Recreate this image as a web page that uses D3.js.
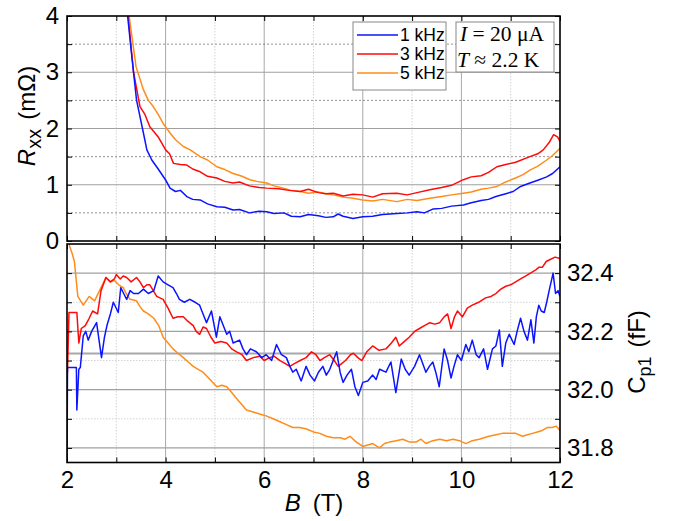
<!DOCTYPE html>
<html><head><meta charset="utf-8">
<script src="https://cdn.jsdelivr.net/npm/d3@7"></script>
<style>
body{margin:0;background:#fff}
text{font-family:"Liberation Sans",Arial,sans-serif;fill:#000}
</style></head>
<body><svg id="c" width="676" height="521"></svg>
<script>
// ---------- data ----------
const seriesNames = ["1 kHz", "3 kHz", "5 kHz"];
const seriesColors = ["#0a14ff", "#ff0a0a", "#ff8c1a"];
const bTicksMajor = [2, 4, 6, 8, 10, 12];
const rxxTicks = [0, 1, 2, 3, 4];
const cpTicks = [31.8, 32.0, 32.2, 32.4];
const annotationLines = [["I", " = 20 μA"], ["T", " ≈ 2.2 K"]];

// Rxx (mΩ) vs B (T)
const rxx1k = [[3.23,4.0],[3.30,3.4],[3.41,2.51],[3.55,1.92],[3.62,1.62],[3.72,1.44],[3.85,1.28],[4.0,1.085],[4.09,0.94],[4.2,0.88],[4.3,0.9],[4.43,0.79],[4.55,0.74],[4.7,0.73],[4.85,0.66],[5.04,0.61],[5.2,0.6],[5.37,0.55],[5.5,0.56],[5.7,0.5],[5.9,0.53],[6.05,0.52],[6.2,0.49],[6.4,0.5],[6.55,0.44],[6.73,0.43],[6.9,0.47],[7.1,0.45],[7.25,0.42],[7.4,0.43],[7.5,0.48],[7.6,0.44],[7.8,0.4],[8.0,0.43],[8.2,0.44],[8.4,0.47],[8.69,0.49],[8.9,0.5],[9.1,0.52],[9.25,0.5],[9.43,0.57],[9.6,0.58],[9.8,0.62],[10.04,0.64],[10.2,0.68],[10.4,0.72],[10.55,0.74],[10.7,0.79],[10.9,0.84],[11.05,0.88],[11.2,0.97],[11.39,1.03],[11.55,1.08],[11.73,1.14],[11.85,1.2],[12.0,1.32]];
const rxx3k = [[3.24,4.0],[3.35,3.0],[3.48,2.39],[3.58,2.25],[3.68,2.03],[3.85,1.85],[4.0,1.62],[4.08,1.55],[4.16,1.38],[4.3,1.36],[4.43,1.35],[4.55,1.28],[4.7,1.23],[4.85,1.15],[5.04,1.12],[5.2,1.06],[5.37,1.03],[5.5,1.05],[5.7,0.98],[5.9,0.95],[6.05,0.94],[6.3,0.93],[6.5,0.9],[6.73,0.88],[6.9,0.92],[7.1,0.86],[7.25,0.84],[7.4,0.85],[7.6,0.8],[7.8,0.83],[8.0,0.82],[8.2,0.78],[8.4,0.84],[8.69,0.85],[8.9,0.82],[9.1,0.86],[9.36,0.91],[9.6,0.95],[9.8,0.99],[10.04,1.09],[10.2,1.14],[10.4,1.16],[10.55,1.22],[10.72,1.32],[10.9,1.36],[11.1,1.4],[11.39,1.5],[11.55,1.55],[11.66,1.62],[11.78,1.75],[11.87,1.89],[11.95,1.85],[12.0,1.77]];
const rxx5k = [[3.26,4.0],[3.4,3.1],[3.55,2.69],[3.65,2.5],[3.75,2.39],[3.85,2.25],[3.95,2.09],[4.09,1.92],[4.2,1.8],[4.36,1.68],[4.5,1.62],[4.7,1.5],[4.85,1.44],[5.04,1.32],[5.2,1.27],[5.37,1.2],[5.55,1.15],[5.71,1.09],[5.85,1.06],[6.05,1.03],[6.2,0.98],[6.39,0.94],[6.55,0.9],[6.73,0.88],[6.9,0.85],[7.1,0.87],[7.25,0.84],[7.4,0.82],[7.6,0.78],[7.8,0.76],[8.0,0.73],[8.2,0.71],[8.4,0.74],[8.69,0.7],[8.9,0.74],[9.1,0.72],[9.36,0.76],[9.6,0.79],[9.8,0.82],[10.04,0.85],[10.2,0.87],[10.4,0.92],[10.55,0.94],[10.72,0.97],[10.9,1.05],[11.1,1.12],[11.25,1.18],[11.39,1.26],[11.55,1.33],[11.73,1.44],[11.85,1.52],[12.0,1.65]];

// Cp1 (fF) vs B (T)
const cp1k = [[2.0,31.7],[2.01,32.076],[2.19,32.076],[2.2,31.93],[2.24,32.07],[2.27,32.076],[2.33,32.185],[2.38,32.2],[2.43,32.17],[2.5,32.2],[2.6,32.23],[2.7,32.11],[2.76,32.18],[2.81,32.22],[2.88,32.26],[2.94,32.3],[3.04,32.265],[3.09,32.35],[3.15,32.33],[3.21,32.31],[3.28,32.34],[3.35,32.33],[3.45,32.33],[3.55,32.345],[3.65,32.33],[3.76,32.34],[3.85,32.39],[3.95,32.37],[4.05,32.36],[4.15,32.35],[4.22,32.33],[4.28,32.31],[4.38,32.3],[4.49,32.31],[4.6,32.3],[4.69,32.29],[4.76,32.26],[4.83,32.23],[4.93,32.27],[5.03,32.18],[5.1,32.25],[5.17,32.22],[5.24,32.19],[5.3,32.2],[5.37,32.16],[5.5,32.17],[5.57,32.14],[5.64,32.12],[5.72,32.14],[5.84,32.13],[5.95,32.11],[6.04,32.12],[6.15,32.1],[6.25,32.155],[6.35,32.12],[6.45,32.11],[6.52,32.08],[6.58,32.06],[6.65,32.07],[6.75,32.03],[6.85,32.08],[6.93,32.05],[7.02,32.03],[7.1,32.06],[7.19,32.08],[7.26,32.05],[7.33,32.07],[7.4,32.1],[7.47,32.13],[7.54,32.06],[7.6,32.025],[7.68,32.05],[7.77,32.07],[7.84,32.01],[7.91,31.98],[8.0,32.025],[8.1,32.03],[8.2,32.05],[8.27,32.035],[8.34,32.07],[8.47,32.06],[8.57,32.095],[8.67,31.99],[8.78,32.105],[8.86,32.07],[8.94,32.05],[9.05,32.08],[9.15,32.12],[9.28,32.06],[9.35,32.08],[9.42,32.095],[9.48,32.06],[9.55,32.01],[9.65,32.14],[9.72,32.1],[9.79,32.04],[9.85,32.08],[9.92,32.12],[10.0,32.1],[10.09,32.155],[10.15,32.13],[10.22,32.17],[10.3,32.12],[10.36,32.11],[10.45,32.14],[10.53,32.07],[10.63,32.14],[10.7,32.15],[10.77,32.205],[10.83,32.08],[10.9,32.16],[10.97,32.19],[11.07,32.155],[11.13,32.2],[11.2,32.245],[11.27,32.2],[11.34,32.17],[11.41,32.24],[11.47,32.16],[11.52,32.25],[11.57,32.29],[11.62,32.27],[11.68,32.265],[11.73,32.3],[11.78,32.34],[11.86,32.4],[11.91,32.33],[11.96,32.34],[12.0,32.32]];
const cp3k = [[2.01,32.06],[2.04,32.265],[2.2,32.265],[2.24,32.16],[2.29,32.21],[2.37,32.22],[2.45,32.245],[2.52,32.27],[2.62,32.26],[2.69,32.34],[2.79,32.385],[2.88,32.37],[2.96,32.38],[3.0,32.395],[3.08,32.38],[3.14,32.39],[3.21,32.385],[3.3,32.37],[3.41,32.385],[3.48,32.37],[3.55,32.35],[3.62,32.36],[3.68,32.36],[3.75,32.34],[3.82,32.32],[3.95,32.31],[4.05,32.28],[4.15,32.245],[4.25,32.25],[4.36,32.25],[4.45,32.235],[4.56,32.22],[4.62,32.2],[4.69,32.19],[4.76,32.215],[4.83,32.21],[4.92,32.18],[5.0,32.16],[5.12,32.165],[5.24,32.16],[5.34,32.14],[5.44,32.13],[5.55,32.12],[5.64,32.1],[5.78,32.11],[5.91,32.115],[6.0,32.1],[6.11,32.11],[6.2,32.115],[6.32,32.1],[6.42,32.09],[6.52,32.08],[6.62,32.09],[6.73,32.1],[6.85,32.11],[6.96,32.13],[7.05,32.12],[7.13,32.1],[7.22,32.11],[7.33,32.12],[7.42,32.1],[7.5,32.08],[7.54,32.085],[7.65,32.1],[7.75,32.12],[7.81,32.125],[7.9,32.11],[7.98,32.1],[8.08,32.13],[8.2,32.15],[8.33,32.135],[8.47,32.14],[8.58,32.16],[8.67,32.18],[8.74,32.15],[8.84,32.165],[8.94,32.18],[9.05,32.2],[9.15,32.21],[9.25,32.22],[9.36,32.23],[9.46,32.225],[9.56,32.23],[9.65,32.25],[9.72,32.26],[9.79,32.21],[9.86,32.25],[9.92,32.27],[10.02,32.25],[10.12,32.28],[10.22,32.29],[10.35,32.3],[10.49,32.315],[10.6,32.32],[10.7,32.33],[10.8,32.345],[10.9,32.355],[11.0,32.36],[11.1,32.37],[11.2,32.38],[11.3,32.39],[11.4,32.4],[11.5,32.41],[11.57,32.42],[11.64,32.42],[11.72,32.44],[11.78,32.445],[11.9,32.455],[12.0,32.45]];
const cp5k = [[2.03,32.55],[2.05,32.494],[2.1,32.47],[2.15,32.44],[2.22,32.32],[2.33,32.29],[2.45,32.32],[2.56,32.305],[2.66,32.34],[2.79,32.385],[2.88,32.37],[2.96,32.375],[3.05,32.36],[3.14,32.35],[3.2,32.33],[3.28,32.31],[3.41,32.305],[3.48,32.285],[3.55,32.27],[3.65,32.26],[3.76,32.245],[3.86,32.22],[3.95,32.18],[4.05,32.16],[4.15,32.14],[4.25,32.125],[4.36,32.11],[4.46,32.095],[4.56,32.08],[4.66,32.07],[4.76,32.06],[4.9,32.035],[5.04,32.01],[5.14,32.015],[5.24,32.01],[5.34,31.99],[5.44,31.97],[5.54,31.95],[5.64,31.93],[5.74,31.925],[5.84,31.92],[5.94,31.915],[6.04,31.91],[6.18,31.9],[6.32,31.89],[6.45,31.88],[6.58,31.87],[6.72,31.87],[6.86,31.865],[7.0,31.855],[7.13,31.85],[7.26,31.84],[7.4,31.835],[7.54,31.835],[7.64,31.83],[7.74,31.84],[7.87,31.82],[8.0,31.805],[8.1,31.81],[8.2,31.815],[8.34,31.8],[8.44,31.815],[8.54,31.82],[8.68,31.825],[8.81,31.83],[8.95,31.82],[9.08,31.82],[9.18,31.83],[9.28,31.815],[9.42,31.825],[9.56,31.83],[9.7,31.825],[9.83,31.83],[9.96,31.825],[10.09,31.815],[10.22,31.825],[10.36,31.83],[10.46,31.835],[10.56,31.84],[10.7,31.845],[10.83,31.85],[10.96,31.85],[11.1,31.85],[11.24,31.84],[11.34,31.845],[11.44,31.85],[11.54,31.855],[11.64,31.86],[11.74,31.87],[11.84,31.87],[11.92,31.875],[12.0,31.86]];
const cpGuide = 32.124; // extra grey guide line in lower panel

// ---------- layout ----------
const svg = d3.select("#c");
const L = 67, R = 560;
const topP = {y0: 16, y1: 241};
const botP = {y0: 244, y1: 462.5};
const x = d3.scaleLinear([2, 12], [L, R]);
const yT = d3.scaleLinear([0, 4], [topP.y1, topP.y0]);
const yB = d3.scaleLinear([31.75, 32.5], [botP.y1, botP.y0]);
const FS = 24;

const defs = svg.append("defs");
defs.append("clipPath").attr("id","clipT").append("rect").attr("x",L).attr("y",topP.y0).attr("width",R-L).attr("height",topP.y1-topP.y0);
defs.append("clipPath").attr("id","clipB").append("rect").attr("x",L).attr("y",botP.y0).attr("width",R-L).attr("height",botP.y1-botP.y0);

const xMinor = d3.range(3, 12, 2);
const xMajorInner = [4, 6, 8, 10];
function grid(g, y, yMaj, yMin, p, minorDark) {
  g.selectAll(".vmin").data(xMinor).join("line").attr("x1", d=>x(d)).attr("x2", d=>x(d)).attr("y1", p.y0).attr("y2", p.y1)
    .attr("stroke", "#c8c8c8").attr("stroke-width", 0.8).attr("stroke-dasharray", "1.5,1.5");
  g.selectAll(".vmaj").data(xMajorInner).join("line").attr("x1", d=>x(d)).attr("x2", d=>x(d)).attr("y1", p.y0).attr("y2", p.y1)
    .attr("stroke", "#a8a8a8").attr("stroke-width", 1);
  g.selectAll(".hmin").data(yMin).join("line").attr("x1", L).attr("x2", R).attr("y1", d=>y(d)).attr("y2", d=>y(d))
    .attr("stroke", minorDark ? "#777" : "#c8c8c8").attr("stroke-width", 0.8).attr("stroke-dasharray", minorDark ? "2,2" : "1.5,1.5");
  g.selectAll(".hmaj").data(yMaj).join("line").attr("x1", L).attr("x2", R).attr("y1", d=>y(d)).attr("y2", d=>y(d))
    .attr("stroke", "#a0a0a0").attr("stroke-width", 1.2);
}
const gT = svg.append("g"), gB = svg.append("g");
grid(gT.append("g"), yT, [1, 2, 3], [0.5, 1.5, 2.5, 3.5], topP, true);
grid(gB.append("g"), yB, cpTicks, [31.9, 32.1, 32.3], botP, false);
gB.append("line").attr("x1", L).attr("x2", R).attr("y1", yB(cpGuide)).attr("y2", yB(cpGuide))
  .attr("stroke", "#a8a8a8").attr("stroke-width", 2);

// curves
const lineT = d3.line().x(d=>x(d[0])).y(d=>yT(d[1]));
const lineB = d3.line().x(d=>x(d[0])).y(d=>yB(d[1]));
const cT = gT.append("g").attr("clip-path","url(#clipT)");
[rxx5k, rxx3k, rxx1k].forEach((s,i)=>{
  cT.append("path").attr("d", lineT(s)).attr("fill","none").attr("stroke", seriesColors[2-i]).attr("stroke-width",1.5).attr("stroke-linejoin","round");
});
const cB = gB.append("g").attr("clip-path","url(#clipB)");
[cp5k, cp3k, cp1k].forEach((s,i)=>{
  cB.append("path").attr("d", lineB(s)).attr("fill","none").attr("stroke", seriesColors[2-i]).attr("stroke-width",1.5).attr("stroke-linejoin","round");
});

// axes (ticks inward)
const ts = 5;
const xAll = d3.range(2, 13, 1);
function styleAxis(g) { g.select(".domain").remove(); g.selectAll(".tick line").attr("stroke","#000").attr("stroke-width",1); }
function styleLabels(g) { g.select(".domain").remove(); g.selectAll("text").attr("font-size", FS).attr("font-family", "Liberation Sans, Arial, sans-serif").attr("fill","#000"); }
// top panel
svg.append("g").attr("transform",`translate(0,${topP.y0})`).call(d3.axisTop(x).tickValues(xAll).tickSize(-ts).tickFormat("")).call(styleAxis);
svg.append("g").attr("transform",`translate(0,${topP.y1})`).call(d3.axisBottom(x).tickValues(xAll).tickSize(-ts).tickFormat("")).call(styleAxis);
svg.append("g").attr("transform",`translate(${L},0)`).call(d3.axisLeft(yT).tickValues(d3.range(0,4.01,0.5)).tickSize(-ts).tickFormat("")).call(styleAxis);
svg.append("g").attr("transform",`translate(${R},0)`).call(d3.axisRight(yT).tickValues(d3.range(0,4.01,0.5)).tickSize(-ts).tickFormat("")).call(styleAxis);
svg.append("g").attr("transform",`translate(${L},0)`).call(d3.axisLeft(yT).tickValues(rxxTicks).tickSize(0).tickPadding(8).tickFormat(d3.format("d"))).call(styleLabels);
// bottom panel
svg.append("g").attr("transform",`translate(0,${botP.y1})`).call(d3.axisBottom(x).tickValues(xAll).tickSize(-ts).tickFormat("")).call(styleAxis);
svg.append("g").attr("transform",`translate(0,${botP.y0})`).call(d3.axisTop(x).tickValues(xAll).tickSize(-ts).tickFormat("")).call(styleAxis);
const cpMinorTicks = [31.8,31.9,32.0,32.1,32.2,32.3,32.4];
svg.append("g").attr("transform",`translate(${L},0)`).call(d3.axisLeft(yB).tickValues(cpMinorTicks).tickSize(-ts).tickFormat("")).call(styleAxis);
svg.append("g").attr("transform",`translate(${R},0)`).call(d3.axisRight(yB).tickValues(cpMinorTicks).tickSize(-ts).tickFormat("")).call(styleAxis);
svg.append("g").attr("transform",`translate(0,${botP.y1})`).call(d3.axisBottom(x).tickValues(bTicksMajor).tickSize(0).tickPadding(8).tickFormat(d3.format("d"))).call(styleLabels);
svg.append("g").attr("transform",`translate(${R},0)`).call(d3.axisRight(yB).tickValues(cpTicks).tickSize(0).tickPadding(7).tickFormat(d3.format(".1f"))).call(styleLabels);

// frames
[topP, botP].forEach(p=>{
  svg.append("rect").attr("x",L).attr("y",p.y0).attr("width",R-L).attr("height",p.y1-p.y0)
    .attr("fill","none").attr("stroke","#000").attr("stroke-width",1.6);
});

// axis titles
const tR = svg.append("text").attr("transform","translate(35,116) rotate(-90)").attr("text-anchor","middle").attr("font-size",24);
tR.append("tspan").attr("font-style","italic").text("R");
tR.append("tspan").attr("font-size",20).attr("dy",6).text("xx");
tR.append("tspan").attr("dy",-6).attr("dx",9).text("(mΩ)");

const tC = svg.append("text").attr("transform","translate(645,352) rotate(-90)").attr("text-anchor","middle").attr("font-size",24);
tC.append("tspan").text("C");
tC.append("tspan").attr("font-size",18).attr("dy",6).text("p1");
tC.append("tspan").attr("dy",-6).attr("dx",9).text("(fF)");

const tB = svg.append("text").attr("x",314).attr("y",511).attr("text-anchor","middle").attr("font-size",24);
tB.append("tspan").attr("font-style","italic").text("B");
tB.append("tspan").attr("dx",12).text("(T)");

// legend
const lg = svg.append("g");
lg.append("rect").attr("x",353).attr("y",22).attr("width",93).attr("height",68).attr("fill","#fff").attr("stroke","#888").attr("stroke-width",1);
seriesNames.forEach((n,i)=>{
  const yy = 35 + i*19;
  lg.append("line").attr("x1",357).attr("x2",398).attr("y1",yy).attr("y2",yy).attr("stroke",seriesColors[i]).attr("stroke-width",1.5);
  lg.append("text").attr("x",400).attr("y",yy+6).attr("font-size",17.5).text(n);
});

// annotation
const an = svg.append("g");
an.append("rect").attr("x",456).attr("y",22).attr("width",98).attr("height",50).attr("fill","#fff").attr("stroke","#888").attr("stroke-width",1);
annotationLines.forEach((ln,i)=>{
  const t = an.append("text").attr("x", i===0 ? 460 : 457).attr("y", 41 + i*25.5).attr("font-size",21.5)
    .style("font-family","'Liberation Serif','Times New Roman',serif");
  t.append("tspan").attr("font-style","italic").text(ln[0]);
  t.append("tspan").text(ln[1]);
});
</script></body></html>
